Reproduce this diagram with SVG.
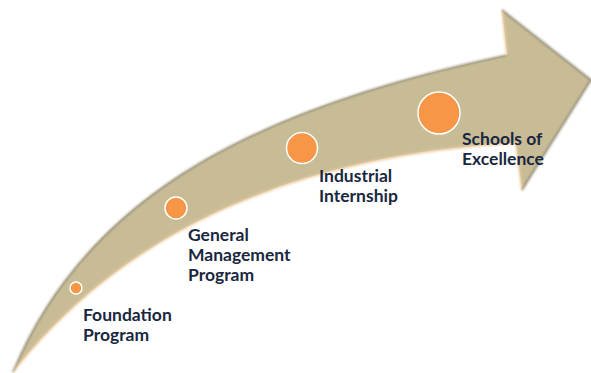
<svg xmlns="http://www.w3.org/2000/svg" width="591" height="373" viewBox="0 0 591 373">
<style>
.lbl{font-family:Lato,"Open Sans","Liberation Sans",sans-serif;font-weight:bold;font-size:17.5px;fill:#192740}
.dot{fill:#F79646;stroke:#FFFFFF;stroke-width:1.5}
</style>
<defs>
<filter id="soft" x="-5%" y="-5%" width="110%" height="110%"><feGaussianBlur stdDeviation="0.8"/></filter>
</defs>
<g id="arrow">
<path d="M 13,372 C 89,188 270,105 507,55 L 502,10 L 591,80 L 522,190 L 516,143 C 290,155 120,235 13,372 Z" fill="#C8BC97"/>
<path d="M 13,372 C 89,188 270,105 507,55" fill="none" stroke="#8F8A74" stroke-width="1.6" filter="url(#soft)"/>
<path d="M 502,10 L 591,80 L 522,190" fill="none" stroke="#8F8A74" stroke-width="1.8" filter="url(#soft)"/>
<path d="M 507,55 L 502,10" fill="none" stroke="#F0CFA0" stroke-width="2" filter="url(#soft)"/>
<path d="M 522,190 L 516,143 C 290,155 120,235 13,372" fill="none" stroke="#ECCB9C" stroke-width="2" filter="url(#soft)"/>
</g>
<g id="foundation">
<circle class="dot" cx="76" cy="288" r="6"/>
<text class="lbl" x="83" y="321">Foundation</text>
<text class="lbl" x="83" y="341">Program</text>
</g>
<g id="general">
<circle class="dot" cx="176" cy="208" r="11"/>
<text class="lbl" x="188" y="241">General</text>
<text class="lbl" x="188" y="261">Management</text>
<text class="lbl" x="188" y="281">Program</text>
</g>
<g id="industrial">
<circle class="dot" cx="302" cy="148" r="15.5"/>
<text class="lbl" x="319" y="182">Industrial</text>
<text class="lbl" x="319" y="202">Internship</text>
</g>
<g id="schools">
<circle class="dot" cx="439" cy="113" r="21"/>
<text class="lbl" x="462" y="145">Schools of</text>
<text class="lbl" x="462" y="165">Excellence</text>
</g>
<g id="connectors"/>
</svg>
